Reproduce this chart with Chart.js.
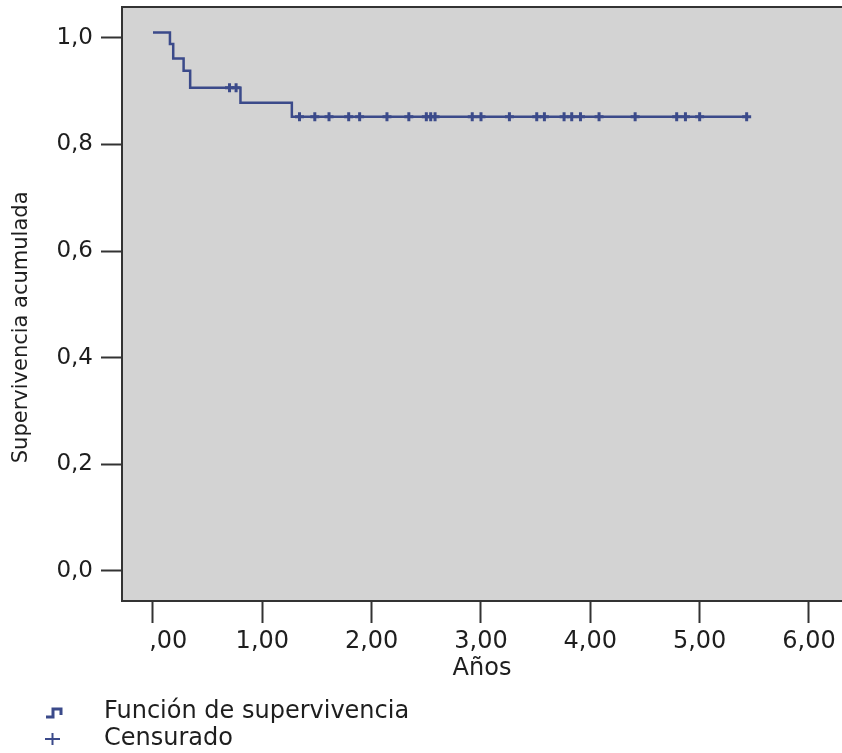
<!DOCTYPE html>
<html><head><meta charset="utf-8">
<script src="https://cdn.jsdelivr.net/npm/chart.js@4/dist/chart.umd.min.js"></script>
<style>html,body{margin:0;padding:0;background:#fff;overflow:hidden}#wrap{width:842px;height:753px}</style>
</head><body><div id="wrap"><canvas id="c" width="842" height="753"></canvas></div>
<script>
// ---- data ----
const stepTimes = [0.00, 0.155, 0.185, 0.28, 0.34, 0.80, 1.27];
const stepSurvival = [1.01, 0.988, 0.961, 0.938, 0.906, 0.878, 0.852];
const censoredTimes = [0.70, 0.76, 1.34, 1.48, 1.61, 1.79, 1.89, 2.14, 2.34, 2.50, 2.54, 2.58,
  2.92, 3.00, 3.26, 3.51, 3.58, 3.76, 3.83, 3.91, 4.08, 4.41, 4.79, 4.87, 5.00, 5.43];
const xTickValues = [0, 1, 2, 3, 4, 5, 6];
const xTickLabels = ['\u2007\u2007,00', '1,00', '2,00', '3,00', '4,00', '5,00', '6,00'];
const yTickValues = [0, 0.2, 0.4, 0.6, 0.8, 1.0];
const yTickLabels = ['0,0', '0,2', '0,4', '0,6', '0,8', '1,0'];
const xTitle = 'Años';
const yTitle = 'Supervivencia acumulada';
const legendLabels = ['Función de supervivencia', 'Censurado'];

// ---- styles ----
const LINE = '#3b4a8a';
const TEXT = '#1e1e1e';
const FONT = 'DejaVu Sans';
const PAD = '\u00a0'.repeat(7);

function survivalAt(t) {
  let s = stepSurvival[0];
  for (let i = 0; i < stepTimes.length; i++) if (stepTimes[i] <= t) s = stepSurvival[i];
  return s;
}
const lastTime = Math.max(...censoredTimes);
const curve = stepTimes.map((t, i) => ({x: t, y: stepSurvival[i]}));
curve.push({x: lastTime, y: survivalAt(lastTime)});
const censored = censoredTimes.map(t => ({x: t, y: survivalAt(t)}));

const framePlugin = {
  id: 'frame',
  beforeDraw(chart) {
    const {ctx, chartArea: a} = chart;
    ctx.save();
    ctx.fillStyle = '#d3d3d3';
    ctx.fillRect(a.left, a.top, a.right - a.left, a.bottom - a.top);
    ctx.strokeStyle = '#333';
    ctx.lineWidth = 2;
    ctx.beginPath();
    ctx.moveTo(a.right + 2, a.top);
    ctx.lineTo(a.left, a.top);
    ctx.lineTo(a.left, a.bottom);
    ctx.lineTo(a.right + 2, a.bottom);
    ctx.stroke();
    ctx.restore();
  },
  afterDraw(chart) {
    const ctx = chart.ctx;
    ctx.save();
    ctx.strokeStyle = LINE;
    ctx.lineWidth = 3;
    ctx.beginPath();
    ctx.moveTo(46, 717); ctx.lineTo(53, 717); ctx.lineTo(53, 709); ctx.lineTo(61, 709); ctx.lineTo(61, 715);
    ctx.stroke();
    ctx.lineWidth = 2;
    ctx.beginPath();
    ctx.moveTo(45, 739); ctx.lineTo(60, 739);
    ctx.moveTo(52.5, 733); ctx.lineTo(52.5, 745);
    ctx.stroke();
    ctx.fillStyle = TEXT;
    ctx.font = '24px "' + FONT + '"';
    ctx.textBaseline = 'middle';
    ctx.textAlign = 'left';
    ctx.fillText(legendLabels[0], 104, 712);
    ctx.fillText(legendLabels[1], 104, 739);
    ctx.restore();
  }
};

new Chart(document.getElementById('c'), {
  type: 'scatter',
  data: {
    datasets: [
      {label: legendLabels[0], data: curve, showLine: true, stepped: true, borderColor: LINE,
       borderWidth: 2.5, pointRadius: 0, fill: false},
      {label: legendLabels[1], data: censored, showLine: false, pointStyle: 'cross', pointRadius: 4.5,
       borderColor: LINE, borderWidth: 3, backgroundColor: LINE}
    ]
  },
  options: {
    responsive: false, animation: false, devicePixelRatio: 1,
    layout: {autoPadding: false, padding: {top: 7, left: 0, right: 0, bottom: 0}},
    plugins: {legend: {display: false}, tooltip: {enabled: false}},
    scales: {
      x: {
        type: 'linear', min: -0.2835, max: 6.302,
        afterBuildTicks: s => { s.ticks = xTickValues.map(v => ({value: v})); },
        afterFit: s => { s.height = 152; s.paddingLeft = 0; s.paddingRight = 0; },
        ticks: {callback: (v, i) => xTickLabels[i], font: {family: FONT, size: 24}, color: TEXT,
                padding: 4, maxRotation: 0, autoSkip: false},
        grid: {display: true, drawOnChartArea: false, drawTicks: true, tickLength: 22, tickWidth: 2, tickColor: '#333'},
        border: {display: false},
        title: {display: true, text: xTitle, font: {family: FONT, size: 24}, color: TEXT, padding: {top: 0, bottom: 70}}
      },
      y: {
        type: 'linear', min: -0.0563, max: 1.0576,
        afterBuildTicks: s => { s.ticks = yTickValues.map(v => ({value: v})); },
        afterFit: s => { s.width = 122; s.paddingTop = 0; s.paddingBottom = 0; },
        ticks: {callback: (v, i) => yTickLabels[i], font: {family: FONT, size: 23}, color: TEXT, padding: 8, autoSkip: false},
        grid: {display: true, drawOnChartArea: false, drawTicks: true, tickLength: 21, tickWidth: 2, tickColor: '#333'},
        border: {display: false},
        title: {display: true, text: yTitle + PAD, font: {family: FONT, size: 21}, color: TEXT, padding: {top: 9, bottom: 0}}
      }
    }
  },
  plugins: [framePlugin]
});
</script></body></html>
